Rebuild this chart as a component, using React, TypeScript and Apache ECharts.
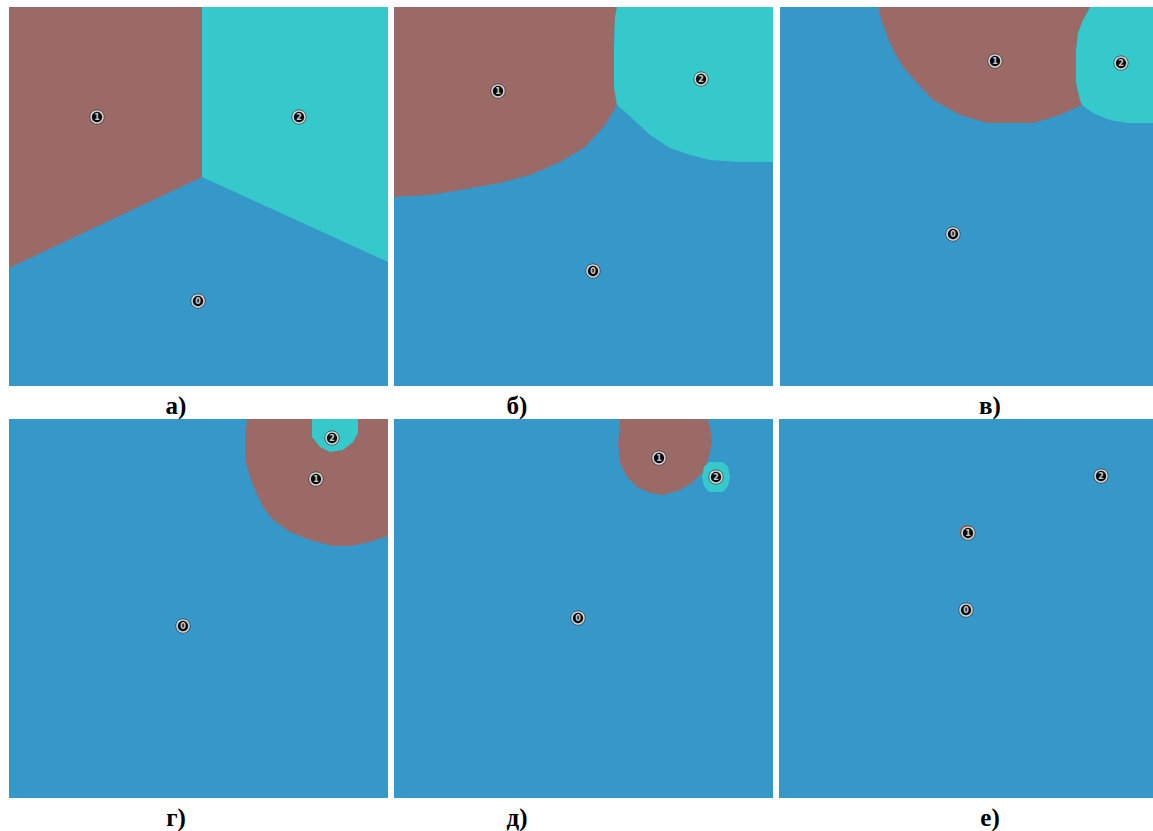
import React, { useEffect, useRef } from "react";
import * as echarts from "echarts";

// Panel-local coordinates (pixels from the panel's top-left, y downward)
const panelLabels = ["а)", "б)", "в)", "г)", "д)", "е)"];

const pointsA = [[189, 294, "0"], [88, 110, "1"], [290, 110, "2"]];
const brownA = [[0, 0], [193, 0], [193, 170], [0, 261]];
const cyanA = [[193, 0], [379, 0], [379, 255], [193, 170]];

const pointsB = [[199, 264, "0"], [104, 84, "1"], [307, 72, "2"]];
const brownB = [[0, 0], [223, 0], [221, 10], [220, 40], [220, 80], [223, 98], [211, 118], [191, 140], [166, 155], [136, 168], [106, 176], [66, 183], [36, 188], [0, 190]];
const cyanB = [[223, 0], [379, 0], [379, 155], [346, 155], [316, 153], [296, 148], [276, 141], [256, 128], [241, 114], [229, 103], [223, 98], [220, 80], [220, 40], [221, 10]];

const pointsC = [[173, 227, "0"], [215, 54, "1"], [341, 56, "2"]];
const brownC = [[98, 0], [101, 12], [106, 26], [113, 43], [123, 60], [137, 76], [153, 93], [180, 108], [207, 116], [253, 116], [280, 108], [297, 100], [302, 98], [300, 93], [296, 76], [296, 43], [298, 26], [303, 13], [310, 0]];
const cyanC = [[310, 0], [373, 0], [373, 116], [347, 116], [330, 113], [313, 106], [302, 98], [300, 93], [296, 76], [296, 43], [298, 26], [303, 13]];

const pointsD = [[174, 207, "0"], [307, 60, "1"], [323, 19, "2"]];
const brownD = [[238, 0], [236, 18], [236, 41], [241, 58], [246, 71], [254, 88], [264, 101], [281, 113], [301, 121], [324, 127], [341, 127], [361, 123], [379, 117], [379, 0]];
const cyanD = [[303, 0], [303, 18], [311, 28], [321, 33], [334, 31], [344, 23], [349, 14], [349, 0]];

const pointsE = [[184, 199, "0"], [265, 39, "1"], [322, 58, "2"]];
const brownE = [[226, 0], [226, 4], [224, 24], [226, 44], [233, 58], [243, 68], [256, 74], [269, 76], [286, 71], [299, 63], [309, 53], [314, 41], [318, 24], [316, 8], [313, 0]];
const cyanE = [[315, 43], [329, 43], [334, 48], [336, 58], [334, 67], [329, 73], [315, 73], [310, 67], [308, 58], [310, 48]];

const pointsF = [[187, 191, "0"], [189, 114, "1"], [322, 57, "2"]];
const brownF = [[184, 106], [190, 106], [195, 110], [195, 116], [190, 120], [184, 120], [181, 116], [181, 110]];
const cyanF: number[][] = [];

const panels = [
  { left: 9, top: 7, w: 379, labelX: 176, labelY: 405, points: pointsA, brown: brownA, cyan: cyanA },
  { left: 394, top: 7, w: 379, labelX: 517, labelY: 405, points: pointsB, brown: brownB, cyan: cyanB },
  { left: 780, top: 7, w: 373, labelX: 990, labelY: 405, points: pointsC, brown: brownC, cyan: cyanC },
  { left: 9, top: 419, w: 379, labelX: 176, labelY: 817, points: pointsD, brown: brownD, cyan: cyanD },
  { left: 394, top: 419, w: 379, labelX: 517, labelY: 817, points: pointsE, brown: brownE, cyan: cyanE },
  { left: 779, top: 419, w: 374, labelX: 990, labelY: 817, points: pointsF, brown: brownF, cyan: cyanF },
];

const BLUE = "#3598c9";
const BROWN = "#9b6966";
const CYAN = "#35c9cb";
const SIZE = 379;

function regionSeries(region: number[][], color: string, idx: number) {
  return {
    type: "custom",
    xAxisIndex: idx,
    yAxisIndex: idx,
    clip: true,
    silent: true,
    data: region,
    renderItem: (params: any, api: any) => {
      if (params.dataIndex !== 0) return null;
      const pts = region.map((p) => api.coord([p[0], p[1]]));
      return { type: "polygon", shape: { points: pts }, style: { fill: color } };
    },
  };
}

export default function App() {
  const ref = useRef<HTMLDivElement>(null);
  useEffect(() => {
    const chart = echarts.init(ref.current!, null, { renderer: "svg" });
    const grid: any[] = [];
    const xAxis: any[] = [];
    const yAxis: any[] = [];
    const series: any[] = [];
    const graphic: any[] = [];
    panels.forEach((p, i) => {
      grid.push({ left: p.left, top: p.top, width: p.w, height: SIZE, show: true, backgroundColor: BLUE, borderWidth: 0 });
      xAxis.push({ gridIndex: i, type: "value", min: 0, max: p.w, show: false });
      yAxis.push({ gridIndex: i, type: "value", min: 0, max: SIZE, inverse: true, show: false });
      if (p.brown.length) series.push(regionSeries(p.brown, BROWN, i));
      if (p.cyan.length) series.push(regionSeries(p.cyan, CYAN, i));
      series.push({
        type: "scatter",
        xAxisIndex: i,
        yAxisIndex: i,
        silent: true,
        symbol: "circle",
        symbolSize: 15,
        itemStyle: { color: "#2a2a2a", opacity: 0.85 },
        data: p.points.map((q) => [q[0], q[1]]),
      });
      series.push({
        type: "scatter",
        xAxisIndex: i,
        yAxisIndex: i,
        silent: true,
        symbol: "circle",
        symbolSize: 12,
        itemStyle: { color: "#000000", borderColor: "#ffffff", borderWidth: 1.6 },
        label: {
          show: true,
          position: "inside",
          formatter: (d: any) => d.value[2],
          color: "#ffffff",
          fontSize: 8,
          fontWeight: "bold",
          fontFamily: "DejaVu Sans",
        },
        data: p.points,
      });
      graphic.push({
        type: "text",
        x: p.labelX,
        y: p.labelY,
        style: {
          text: panelLabels[i],
          fill: "#000000",
          font: "bold 25px 'Liberation Serif', 'DejaVu Serif', serif",
          align: "center",
          verticalAlign: "middle",
        },
      });
    });
    chart.setOption({
      animation: false,
      backgroundColor: "#ffffff",
      grid,
      xAxis,
      yAxis,
      series,
      graphic,
    });
    return () => chart.dispose();
  }, []);
  return (
    <div
      ref={ref}
      style={{ position: "fixed", left: 0, top: 0, width: 1153, height: 831 }}
    />
  );
}
